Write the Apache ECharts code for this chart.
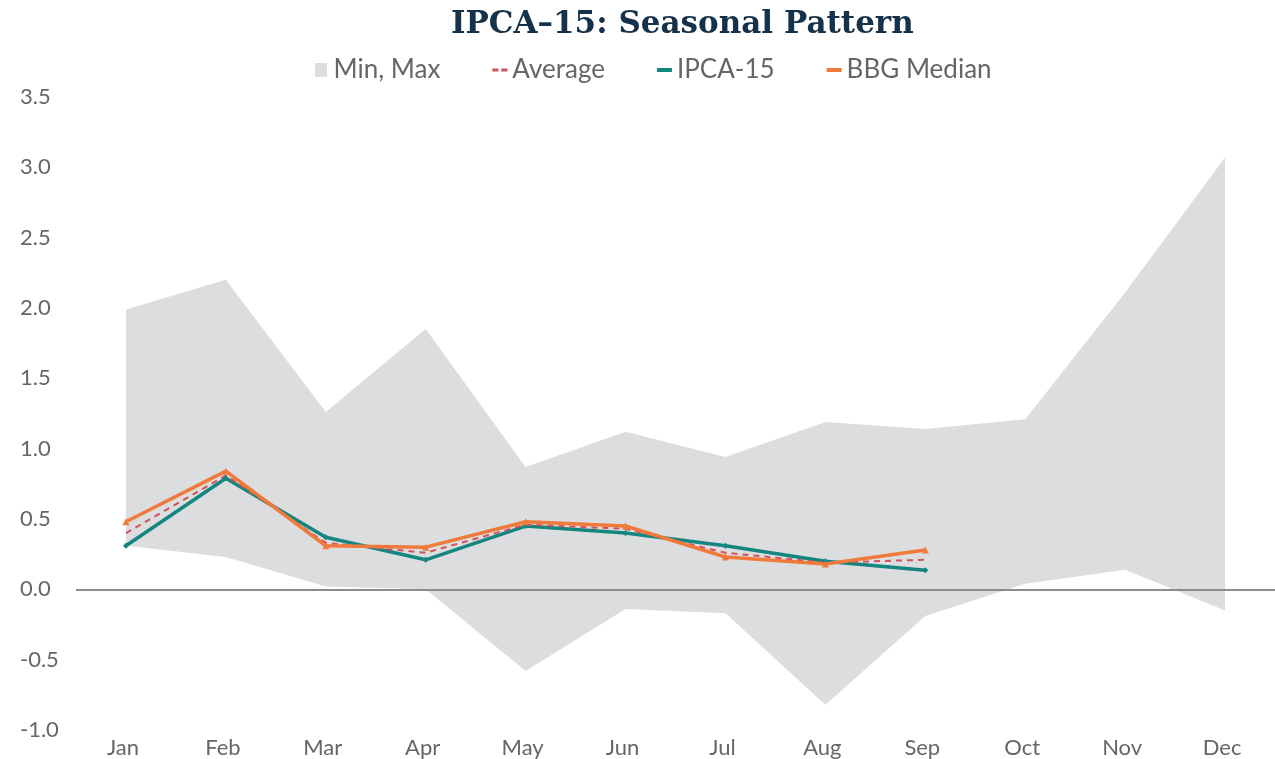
<!DOCTYPE html>
<html><head><meta charset="utf-8">
<script src="https://cdn.jsdelivr.net/npm/echarts@6/dist/echarts.min.js"></script>
<style>html,body{margin:0;padding:0;background:#fff}#c{width:1275px;height:759px}</style>
</head><body><div id="c"></div>
<script>
const months = ['Jan','Feb','Mar','Apr','May','Jun','Jul','Aug','Sep','Oct','Nov','Dec'];
const bandMax = [1.99, 2.20, 1.26, 1.85, 0.87, 1.12, 0.94, 1.19, 1.14, 1.21, 2.11, 3.07];
const bandMin = [0.31, 0.23, 0.02, 0.00, -0.58, -0.14, -0.17, -0.82, -0.19, 0.04, 0.14, -0.15];
const average = [0.40, 0.81, 0.33, 0.26, 0.46, 0.43, 0.26, 0.19, 0.21];
const ipca15 = [0.31, 0.79, 0.37, 0.21, 0.45, 0.40, 0.31, 0.20, 0.135];
const bbgMedian = [0.48, 0.84, 0.31, 0.30, 0.48, 0.45, 0.23, 0.18, 0.28];
const yTicks = {min: -1.0, max: 3.5, interval: 0.5};

const bandRange = bandMax.map((v, i) => +(v - bandMin[i]).toFixed(3));
const FONT = 'Lato';
const chart = echarts.init(document.getElementById('c'), null, {renderer: 'canvas'});
chart.setOption({
  animation: false,
  title: {
    text: 'IPCA\u201315: Seasonal Pattern', left: 446, top: 4,
    textStyle: {fontFamily: 'DejaVu Serif', fontSize: 31, fontWeight: 'bold', color: '#15324a'}
  },
  legend: {
    top: 52, left: 310, itemGap: 52, itemWidth: 15, itemHeight: 14,
    textStyle: {fontFamily: FONT, fontSize: 26, color: '#666'},
    data: [
      {name: 'Min, Max', icon: 'path://M0,0h12v14h-12z'},
      {name: 'Average', icon: 'path://M0,0h6v3h-6zM9,0h6v3h-6z'},
      {name: 'IPCA-15', icon: 'path://M0,0h15v4h-15z'},
      {name: 'BBG Median', icon: 'path://M0,0h15v4h-15z'}
    ]
  },
  grid: {left: 76, right: -11, top: 97, bottom: 28, containLabel: false},
  xAxis: {
    type: 'category', data: months, boundaryGap: true,
    axisLine: {show: false}, axisTick: {show: false},
    axisLabel: {fontFamily: FONT, fontSize: 22, color: '#666', margin: 7, padding: [0, 6, 0, 0]}
  },
  yAxis: {
    type: 'value', min: yTicks.min, max: yTicks.max, interval: yTicks.interval,
    splitLine: {show: false}, axisLine: {show: false}, axisTick: {show: false},
    axisLabel: {fontFamily: FONT, fontSize: 22, color: '#666', align: 'left', margin: 56,
      formatter: v => v.toFixed(1)}
  },
  series: [
    {name: 'min', type: 'line', stack: 'band', stackStrategy: 'all', data: bandMin,
     symbol: 'none', lineStyle: {opacity: 0}, areaStyle: {opacity: 0}, silent: true},
    {name: 'Min, Max', type: 'line', stack: 'band', stackStrategy: 'all', data: bandRange,
     symbol: 'none', color: '#dcdddf', lineStyle: {opacity: 0},
     areaStyle: {color: '#dcdddf', opacity: 1},
     markLine: {silent: true, symbol: 'none', label: {show: false},
       lineStyle: {color: '#8c8c8c', width: 2, type: 'solid'}, data: [{yAxis: 0}]}},
    {name: 'IPCA-15', type: 'line', data: ipca15, color: '#14857f',
     symbol: 'diamond', symbolSize: 6, lineStyle: {width: 3.5, color: '#14857f'},
     itemStyle: {color: '#14857f'}},
    {name: 'Average', type: 'line', data: average, color: '#d2525a',
     symbol: 'none', lineStyle: {width: 2, type: [6, 5], color: '#d2525a'}},
    {name: 'BBG Median', type: 'line', data: bbgMedian, color: '#f07a3c',
     symbol: 'triangle', symbolSize: 7, lineStyle: {width: 3.5, color: '#f07a3c'},
     itemStyle: {color: '#f07a3c'}}
  ]
});
</script></body></html>
